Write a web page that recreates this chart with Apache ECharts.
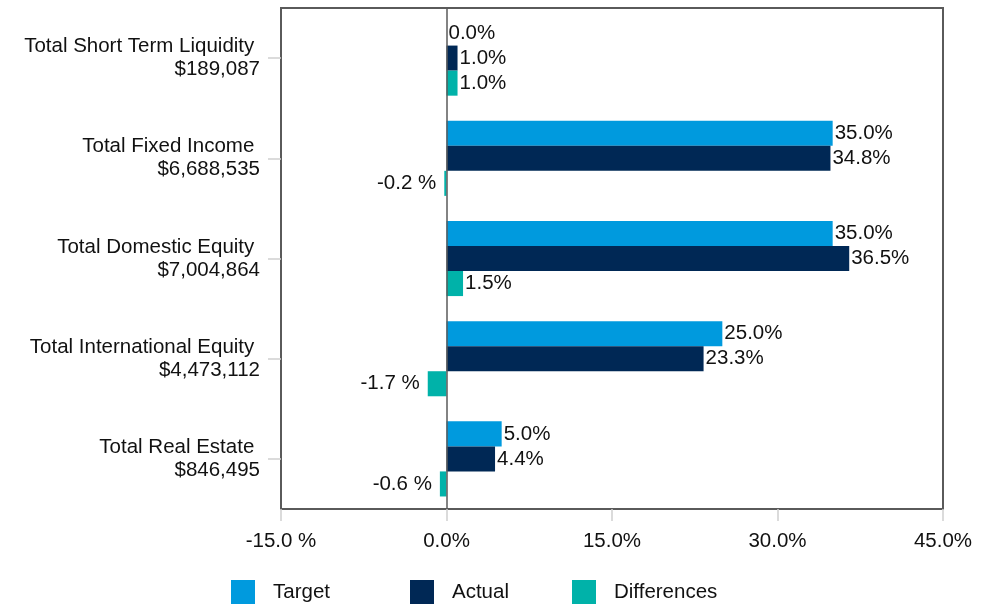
<!DOCTYPE html>
<html><head><meta charset="utf-8">
<script src="https://cdn.jsdelivr.net/npm/echarts@6/dist/echarts.min.js"></script>
<style>html,body{margin:0;padding:0;background:#fff}#c{width:990px;height:606px}</style>
</head><body><div id="c"></div>
<script>
const categories = ["Total Short Term Liquidity ", "Total Fixed Income ", "Total Domestic Equity ", "Total International Equity ", "Total Real Estate "];
const marketValues = ["$189,087", "$6,688,535", "$7,004,864", "$4,473,112", "$846,495"];
const target = [0.0, 35.0, 35.0, 25.0, 5.0];
const actual = [1.0, 34.8, 36.5, 23.3, 4.4];
const differences = [1.0, -0.2, 1.5, -1.7, -0.6];
const seriesNames = ["Target", "Actual", "Differences"];
const colors = ["#009ADE", "#002855", "#00B2A9"];
const xTicks = [-15, 0, 15, 30, 45];

const fmt = v => v < 0 ? v.toFixed(1) + ' %' : v.toFixed(1) + '%';
const font = 'Liberation Sans, Arial, sans-serif';
const FS = 20.5;
const mk = arr => arr.map(v => ({value: v, label: v < 0 ? {position: 'left', distance: 8} : {position: 'right', distance: 2}}));

const chart = echarts.init(document.getElementById('c'));
const mkSeries = (name, arr, color, extra) => Object.assign({
  name: name, type: 'bar', data: mk(arr), barGap: '0%', barCategoryGap: '25%',
  itemStyle: {color: color},
  label: {show: true, formatter: p => fmt(p.value), fontSize: FS, fontFamily: font, color: '#111'},
  emphasis: {disabled: true}
}, extra || {});
const legendAt = (i, left) => ({
  data: [seriesNames[i]], left: left, top: 580, padding: 0, icon: 'rect', itemWidth: 24, itemHeight: 24,
  textStyle: {fontSize: FS, fontFamily: font, color: '#111', padding: [0, 0, 0, 13]},
  selectedMode: false
});
chart.setOption({
  animation: false,
  legend: [legendAt(0, 231), legendAt(1, 410), legendAt(2, 572)],
  grid: {left: 281, right: 47, top: 8, bottom: 97, show: true, borderColor: '#5a5a5a', borderWidth: 2, containLabel: false},
  xAxis: {
    type: 'value', min: xTicks[0], max: xTicks[xTicks.length - 1], interval: 15,
    axisLine: {show: false}, splitLine: {show: false},
    axisTick: {show: true, length: 12, lineStyle: {color: '#d0d0d0', width: 1.5}},
    axisLabel: {formatter: v => fmt(v), fontSize: FS, fontFamily: font, color: '#111', margin: 22}
  },
  yAxis: {
    type: 'category', data: categories, inverse: true,
    axisLine: {show: false, onZero: false},
    axisTick: {show: true, alignWithLabel: true, length: 13, lineStyle: {color: '#d0d0d0', width: 1.5}},
    axisLabel: {
      formatter: (v, i) => v + '\n' + marketValues[i],
      fontSize: FS, fontFamily: font, color: '#111', align: 'right', lineHeight: 23, margin: 21
    }
  },
  series: [
    mkSeries(seriesNames[0], target, colors[0], {
      markLine: {silent: true, symbol: 'none', label: {show: false}, lineStyle: {color: '#5a5a5a', type: 'solid', width: 1.5}, data: [{xAxis: 0}]}
    }),
    mkSeries(seriesNames[1], actual, colors[1]),
    mkSeries(seriesNames[2], differences, colors[2])
  ]
});
</script></body></html>
